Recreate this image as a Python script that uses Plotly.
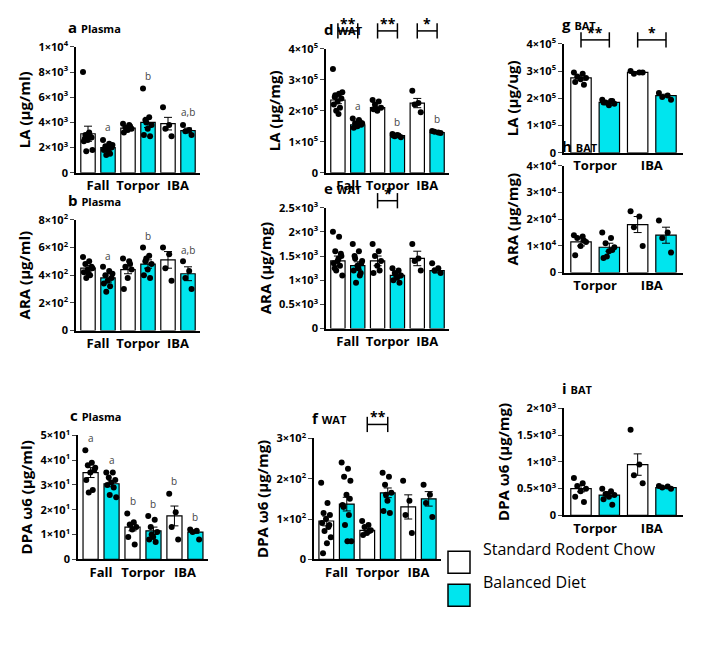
import plotly.graph_objects as go

W, H = 708, 652
CYAN = "#00E5EE"
FONT = "Open Sans"

# each group: (diet, mean, sem, points); diet "S" = standard chow, "B" = balanced
a_groups = [("S", 3.1, 0.6, [8.0, 3.2, 3.0, 2.8, 2.6, 2.5, 2.9, 1.7, 1.8, 3.1, 2.7]),
            ("B", 2.0, 0.15, [2.6, 2.3, 2.1, 2.0, 1.9, 1.8, 1.5, 1.4, 2.2, 1.7]),
            ("S", 3.55, 0.15, [3.9, 3.8, 3.6, 3.5, 3.4, 3.2, 3.7]),
            ("B", 4.0, 0.4, [6.7, 4.4, 4.2, 3.8, 3.5, 3.0, 2.9, 4.0]),
            ("S", 3.9, 0.5, [5.2, 3.8, 3.5, 2.9]),
            ("B", 3.35, 0.2, [3.8, 3.4, 3.3, 3.0])]
a_letters = ["", "a", "", "b", "", "a,b"]

d_groups = [("S", 2.35, 0.12, [3.35, 2.55, 2.5, 2.4, 2.3, 2.2, 2.1, 2.0, 2.6, 1.9, 2.45]),
            ("B", 1.55, 0.04, [1.75, 1.7, 1.6, 1.55, 1.5, 1.45, 1.65, 1.5, 1.6]),
            ("S", 2.1, 0.05, [2.35, 2.3, 2.2, 2.1, 2.0, 2.05]),
            ("B", 1.2, 0.02, [1.25, 1.2, 1.18, 1.15, 1.22, 1.2]),
            ("S", 2.25, 0.15, [2.65, 2.25, 2.2, 1.95]),
            ("B", 1.3, 0.02, [1.35, 1.3, 1.32, 1.28])]
d_letters = ["", "a", "", "b", "", "b"]

g_groups = [("S", 2.75, 0.08, [2.95, 2.9, 2.8, 2.75, 2.7, 2.6, 2.5]),
            ("B", 1.85, 0.04, [1.95, 1.9, 1.85, 1.8, 1.75, 1.85, 1.9]),
            ("S", 2.95, 0.03, [3.0, 2.95, 2.9, 2.95]),
            ("B", 2.1, 0.05, [2.2, 2.1, 2.05, 1.95])]

b_groups = [("S", 4.5, 0.2, [5.3, 5.0, 4.8, 4.6, 4.4, 4.2, 4.0, 3.8, 4.5, 4.1]),
            ("B", 3.8, 0.3, [4.6, 4.3, 4.0, 3.8, 3.6, 3.4, 3.2, 2.8, 4.1]),
            ("S", 4.4, 0.3, [5.2, 5.0, 4.6, 4.4, 3.8, 3.0, 4.8]),
            ("B", 4.8, 0.3, [6.0, 5.4, 5.0, 4.8, 4.4, 4.0, 3.8, 5.2]),
            ("S", 5.1, 0.6, [6.0, 5.5, 4.5, 3.6]),
            ("B", 4.1, 0.5, [5.0, 4.3, 3.8, 3.0])]
b_letters = ["", "a", "", "b", "", "a,b"]

e_groups = [("S", 1.4, 0.1, [2.0, 1.9, 1.6, 1.5, 1.4, 1.35, 1.3, 1.2, 1.1, 1.45, 1.25, 1.55]),
            ("B", 1.3, 0.08, [1.75, 1.6, 1.45, 1.35, 1.3, 1.2, 1.1, 0.95, 1.4, 1.25, 1.5, 1.15]),
            ("S", 1.4, 0.1, [1.75, 1.6, 1.5, 1.4, 1.3, 1.15, 1.2]),
            ("B", 1.1, 0.05, [1.25, 1.2, 1.15, 1.1, 1.05, 1.0, 0.95, 1.12]),
            ("S", 1.45, 0.15, [1.75, 1.45, 1.4, 1.2]),
            ("B", 1.2, 0.05, [1.35, 1.25, 1.2, 1.15])]

h_groups = [("S", 1.15, 0.15, [1.4, 1.35, 1.3, 1.15, 1.0, 0.65, 1.2]),
            ("B", 0.95, 0.15, [1.5, 1.3, 1.1, 0.95, 0.8, 0.55, 0.85, 0.6]),
            ("S", 1.8, 0.3, [2.3, 2.1, 1.7, 1.0]),
            ("B", 1.4, 0.3, [1.95, 1.5, 1.3, 0.75])]

c_groups = [("S", 3.5, 0.2, [4.4, 3.9, 3.8, 3.6, 3.5, 3.2, 2.8, 2.7, 3.7]),
            ("B", 3.05, 0.12, [3.5, 3.5, 3.3, 3.2, 3.1, 3.0, 2.9, 2.6, 2.5]),
            ("S", 1.3, 0.15, [1.85, 1.5, 1.4, 1.3, 1.2, 0.9, 0.6]),
            ("B", 1.15, 0.15, [1.75, 1.6, 1.3, 1.1, 0.9, 0.8, 0.7, 1.0]),
            ("S", 1.75, 0.4, [2.65, 1.9, 1.3, 0.8]),
            ("B", 1.1, 0.05, [1.2, 1.15, 1.1, 0.8])]
c_letters = ["a", "a", "b", "b", "b", "b"]

f_groups = [("S", 0.95, 0.12, [1.9, 1.4, 1.15, 1.1, 1.0, 0.9, 0.8, 0.7, 0.55, 0.4, 0.15, 0.85]),
            ("B", 1.37, 0.17, [2.4, 2.25, 2.05, 1.95, 1.6, 1.35, 1.1, 0.85, 0.45, 0.45, 1.3, 1.5]),
            ("S", 0.72, 0.04, [0.95, 0.85, 0.8, 0.72, 0.65, 0.6, 0.7]),
            ("B", 1.65, 0.12, [2.15, 2.05, 1.85, 1.65, 1.45, 1.2, 1.15, 1.6]),
            ("S", 1.3, 0.3, [1.95, 1.45, 1.1, 0.65]),
            ("B", 1.5, 0.18, [1.85, 1.6, 1.4, 1.05])]

i_groups = [("S", 0.5, 0.06, [0.7, 0.6, 0.55, 0.5, 0.45, 0.35, 0.25]),
            ("B", 0.38, 0.03, [0.5, 0.45, 0.4, 0.38, 0.35, 0.3, 0.2, 0.4]),
            ("S", 0.95, 0.2, [1.6, 0.95, 0.75, 0.6]),
            ("B", 0.52, 0.02, [0.55, 0.54, 0.52, 0.5])]

cats6 = ["Fall", "Torpor", "IBA"]
cats4 = ["Torpor", "IBA"]

# panel: letter, tissue, groups, letters, brackets [(i, j, stars)], bracket lift px, ytitle,
# ymax, dtick, exponent, pixel box (x0, x1, ytop, ybottom)
panels = [
    ("a", "Plasma", a_groups, a_letters, [], 0, "LA (µg/ml)", 10, 2, 3, (68, 192, 31, 157)),
    ("d", "WAT", d_groups, d_letters, [(0, 1, "**"), (2, 3, "**"), (4, 5, "*")], 18,
     "LA (µg/mg)", 4, 1, 5, (318, 441, 33, 157)),
    ("g", "BAT", g_groups, None, [(0, 1, "**"), (2, 3, "*")], 4,
     "LA (µg/ug)", 4, 1, 5, (556, 675, 28, 137)),
    ("b", "Plasma", b_groups, b_letters, [], 0, "ARA (µg/ml)", 8, 2, 2, (68, 192, 204, 315)),
    ("e", "WAT", e_groups, None, [(2, 3, "*")], 7, "ARA (µg/mg)", 2.5, 0.5, 3, (318, 441, 192, 313)),
    ("h", "BAT", h_groups, None, [], 0, "ARA (µg/mg)", 4, 1, 4, (556, 675, 150, 257)),
    ("c", "Plasma", c_groups, c_letters, [], 0, "DPA ω6 (µg/ml)", 5, 1, 1, (70, 200, 420, 544)),
    ("f", "WAT", f_groups, None, [(2, 3, "**")], 14, "DPA ω6 (µg/mg)", 3, 1, 2, (306, 433, 423, 544)),
    ("i", "BAT", i_groups, None, [], 0, "DPA ω6 (µg/mg)", 2, 0.5, 3, (556, 675, 393, 500)),
]


def px(x):
    return x / W


def py(y):
    # small correction for the vertical placement seen in the rendered page
    y = 31 + (y - 46) / 0.9766 + 15
    return 1 - y / H


def tick_label(v, e):
    if v == 0:
        return "0"
    if v >= 10:
        v, e = v / 10, e + 1
    return f"{v:g}×10<sup>{e}</sup>"


fig = go.Figure()
layout = {}
shapes = []
annots = []

for k, (let, tissue, groups, letters, brackets, lift, ytitle, ymax, dtick, ex, box) in enumerate(panels):
    n = k + 1
    xn = "x" if n == 1 else f"x{n}"
    yn = "y" if n == 1 else f"y{n}"
    x0, x1, yt, yb = box
    ng = len(groups)
    for idx, (diet, mean, sem, pts) in enumerate(groups):
        fig.add_trace(go.Bar(
            x=[idx], y=[mean], width=0.72, xaxis=xn, yaxis=yn,
            marker=dict(color=CYAN if diet == "B" else "white", line=dict(color="black", width=1.2)),
            error_y=dict(type="data", array=[sem], color="black", thickness=1, width=4),
            showlegend=False, hoverinfo="skip"))
        offs = [((j * 0.618) % 1 - 0.5) * 0.5 for j in range(len(pts))]
        fig.add_trace(go.Scatter(
            x=[idx + o for o in offs], y=pts, mode="markers", xaxis=xn, yaxis=yn,
            marker=dict(color="black", size=6), showlegend=False, hoverinfo="skip", cliponaxis=False))
        if letters and letters[idx]:
            annots.append(dict(x=idx, y=max(pts) + ymax * 0.1, xref=xn, yref=yn, text=letters[idx],
                               showarrow=False, font=dict(size=10, color="#444", family=FONT)))
    ticks = [t * dtick for t in range(int(round(ymax / dtick)) + 1)]
    layout["xaxis" if n == 1 else f"xaxis{n}"] = dict(
        domain=[px(x0), px(x1)], anchor=yn, range=[-0.6, ng - 0.4],
        tickvals=[i + 0.5 for i in range(0, ng, 2)], ticktext=cats6 if ng == 6 else cats4,
        tickangle=0, showline=True, linecolor="black", linewidth=1.5, ticks="",
        showgrid=False, zeroline=False,
        tickfont=dict(size=13, family=FONT, color="black", weight="bold"))
    layout["yaxis" if n == 1 else f"yaxis{n}"] = dict(
        domain=[py(yb), py(yt)], anchor=xn, range=[0, ymax],
        tickvals=ticks, ticktext=[tick_label(t, ex) for t in ticks],
        showline=True, linecolor="black", linewidth=1.5, ticks="outside", ticklen=4,
        showgrid=False, zeroline=False,
        tickfont=dict(size=11, family=FONT, color="black", weight="bold"),
        title=dict(text=ytitle, standoff=4, font=dict(size=15, family=FONT, color="black", weight="bold")))
    annots.append(dict(x=px(x0 - 10 if n in (1, 4, 7) else x0 - 4), y=py(yt - 20),
                       xref="paper", yref="paper", xanchor="left", yanchor="middle", showarrow=False,
                       text=f"<b>{let}</b> <b><span style='font-size:11px'>{tissue}</span></b>",
                       font=dict(size=15, family=FONT, color="black")))
    for (i0, i1, stars) in brackets:
        by = py(yt - lift)
        shapes.append(dict(type="line", xref=xn, yref="paper", x0=i0, x1=i1, y0=by, y1=by,
                           line=dict(color="black", width=1.5)))
        for xi in (i0, i1):
            shapes.append(dict(type="line", xref=xn, yref="paper", x0=xi, x1=xi,
                               y0=by - 0.012, y1=by + 0.012, line=dict(color="black", width=1.5)))
        annots.append(dict(x=(i0 + i1) / 2, y=by, xref=xn, yref="paper", text=f"<b>{stars}</b>",
                           showarrow=False, yanchor="bottom", yshift=-4,
                           font=dict(size=14, family=FONT, color="black")))

# legend
for yy, col, txt in [(536, "white", "Standard Rodent Chow"), (569, CYAN, "Balanced Diet")]:
    shapes.append(dict(type="rect", xref="paper", yref="paper", x0=px(440), x1=px(462),
                       y0=py(yy + 22), y1=py(yy), fillcolor=col, line=dict(color="black", width=1.5)))
    annots.append(dict(x=px(473), y=py(yy + 11), xref="paper", yref="paper", text=txt,
                       xanchor="left", showarrow=False, font=dict(size=16, family=FONT, color="black")))

fig.update_layout(width=W, height=H, margin=dict(l=0, r=0, t=0, b=0),
                  plot_bgcolor="white", paper_bgcolor="white",
                  shapes=shapes, annotations=annots, **layout)
fig.write_html("out.html")
